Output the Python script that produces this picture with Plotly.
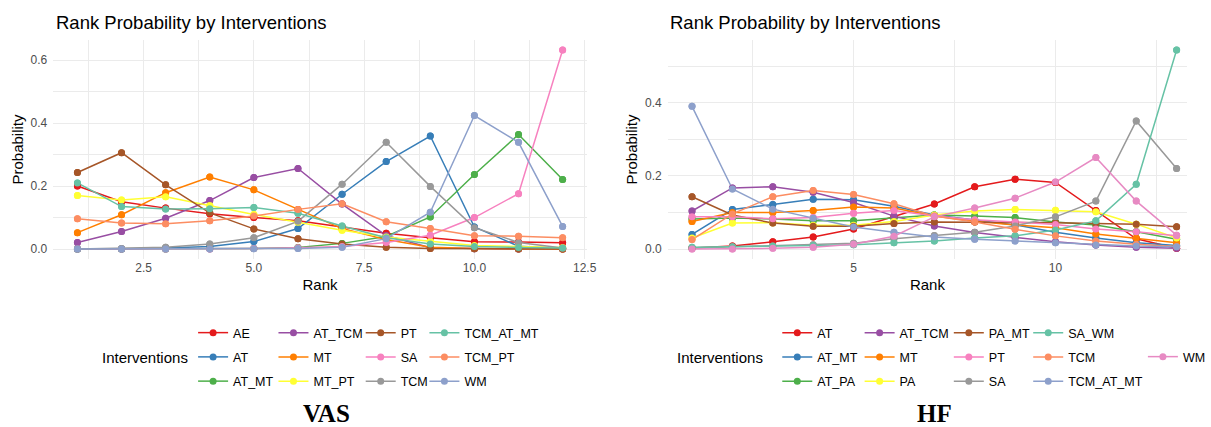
import plotly.graph_objects as go

W, H = 1211, 427

# ---------------- VAS: rank probabilities (ranks 1..12) ----------------
vas_ranks = list(range(1, 13))
vas_names = ["AE", "AT", "AT_MT", "AT_TCM", "MT", "MT_PT", "PT", "SA", "TCM",
             "TCM_AT_MT", "TCM_PT", "WM"]
vas_AE = [0.200, 0.150, 0.130, 0.112, 0.100, 0.090, 0.070, 0.050, 0.036, 0.023, 0.022, 0.020]
vas_AT = [0.000, 0.000, 0.003, 0.008, 0.024, 0.065, 0.174, 0.278, 0.359, 0.070, 0.009, 0.002]
vas_AT_MT = [0.000, 0.000, 0.000, 0.001, 0.002, 0.005, 0.018, 0.040, 0.102, 0.237, 0.364, 0.221]
vas_AT_TCM = [0.021, 0.056, 0.098, 0.154, 0.227, 0.256, 0.143, 0.043, 0.004, 0.001, 0.000, 0.000]
vas_MT = [0.052, 0.109, 0.179, 0.229, 0.188, 0.126, 0.065, 0.030, 0.006, 0.002, 0.001, 0.000]
vas_MT_PT = [0.170, 0.156, 0.166, 0.138, 0.110, 0.085, 0.060, 0.038, 0.025, 0.011, 0.008, 0.005]
vas_PT = [0.243, 0.306, 0.204, 0.115, 0.064, 0.033, 0.016, 0.006, 0.002, 0.001, 0.000, 0.000]
vas_SA = [0.000, 0.000, 0.000, 0.000, 0.002, 0.004, 0.008, 0.021, 0.044, 0.100, 0.176, 0.632]
vas_TCM = [0.000, 0.002, 0.006, 0.016, 0.036, 0.088, 0.206, 0.339, 0.199, 0.068, 0.021, 0.003]
vas_TCM_AT_MT = [0.210, 0.135, 0.127, 0.128, 0.132, 0.114, 0.073, 0.036, 0.016, 0.008, 0.005, 0.003]
vas_TCM_PT = [0.096, 0.083, 0.080, 0.090, 0.105, 0.126, 0.144, 0.087, 0.065, 0.042, 0.041, 0.036]
vas_WM = [0.000, 0.000, 0.000, 0.000, 0.001, 0.002, 0.006, 0.033, 0.117, 0.424, 0.339, 0.072]
vas_values = [vas_AE, vas_AT, vas_AT_MT, vas_AT_TCM, vas_MT, vas_MT_PT, vas_PT, vas_SA,
              vas_TCM, vas_TCM_AT_MT, vas_TCM_PT, vas_WM]
vas_colors = ["#E41A1C", "#377EB8", "#4DAF4A", "#984EA3", "#FF7F00", "#FFFF33", "#A65628",
              "#F781BF", "#999999", "#66C2A5", "#FC8D62", "#8DA0CB"]

# ---------------- HF: rank probabilities (ranks 1..13) ----------------
hf_ranks = list(range(1, 14))
hf_names = ["AT", "AT_MT", "AT_PA", "AT_TCM", "MT", "PA", "PA_MT", "PT", "SA", "SA_WM",
            "TCM", "TCM_AT_MT", "WM"]
hf_AT = [0.003, 0.008, 0.020, 0.033, 0.055, 0.088, 0.123, 0.170, 0.191, 0.182, 0.105, 0.028, 0.002]
hf_AT_MT = [0.040, 0.108, 0.122, 0.136, 0.135, 0.117, 0.093, 0.080, 0.066, 0.046, 0.030, 0.017, 0.010]
hf_AT_PA = [0.082, 0.085, 0.082, 0.077, 0.077, 0.084, 0.093, 0.090, 0.086, 0.074, 0.066, 0.047, 0.027]
hf_AT_TCM = [0.104, 0.167, 0.170, 0.155, 0.127, 0.090, 0.063, 0.045, 0.032, 0.020, 0.011, 0.005, 0.002]
hf_MT = [0.075, 0.100, 0.100, 0.105, 0.115, 0.112, 0.090, 0.076, 0.066, 0.058, 0.041, 0.030, 0.017]
hf_PA = [0.030, 0.071, 0.072, 0.065, 0.065, 0.075, 0.093, 0.104, 0.108, 0.106, 0.102, 0.068, 0.030]
hf_PA_MT = [0.143, 0.093, 0.071, 0.062, 0.062, 0.070, 0.074, 0.074, 0.072, 0.072, 0.070, 0.068, 0.061]
hf_PT = [0.088, 0.088, 0.083, 0.086, 0.098, 0.105, 0.090, 0.080, 0.074, 0.067, 0.055, 0.047, 0.036]
hf_SA = [0.003, 0.006, 0.008, 0.012, 0.016, 0.028, 0.037, 0.046, 0.063, 0.088, 0.131, 0.350, 0.220]
hf_SA_WM = [0.005, 0.006, 0.008, 0.010, 0.012, 0.017, 0.022, 0.030, 0.036, 0.052, 0.077, 0.177, 0.544]
hf_TCM = [0.026, 0.096, 0.143, 0.160, 0.149, 0.124, 0.090, 0.074, 0.054, 0.036, 0.022, 0.013, 0.007]
hf_TCM_AT_MT = [0.390, 0.164, 0.109, 0.084, 0.060, 0.046, 0.033, 0.027, 0.022, 0.017, 0.011, 0.008, 0.006]
hf_WM = [0.000, 0.000, 0.002, 0.005, 0.013, 0.035, 0.088, 0.112, 0.139, 0.183, 0.250, 0.131, 0.038]
hf_values = [hf_AT, hf_AT_MT, hf_AT_PA, hf_AT_TCM, hf_MT, hf_PA, hf_PA_MT, hf_PT, hf_SA,
             hf_SA_WM, hf_TCM, hf_TCM_AT_MT, hf_WM]
hf_colors = ["#E41A1C", "#377EB8", "#4DAF4A", "#984EA3", "#FF7F00", "#FFFF33", "#A65628",
             "#F781BF", "#999999", "#66C2A5", "#FC8D62", "#8DA0CB", "#E78AC3"]

SANS = "Liberation Sans, Arial, sans-serif"
SERIF = "Liberation Serif, Times New Roman, serif"
GRID = "#EBEBEB"
TICK = "#4D4D4D"
MARKER_SIZE = 7
LINE_WIDTH = 1.5


def px_x(x):
    return x / W


def px_y(y):
    return 1 - y / H


fig = go.Figure()

# legend layout: items fill columns top-to-bottom, 3 per column
ROWS = 3
ROW_MID = 357
vas_legend_left = [197, 279, 368, 433]
hf_legend_left = [793, 877, 968, 1049, 1166]


def add_panel(ranks, names, values, colors, xa, ya, legend_ids):
    # lines (with legend entries) first, then all points on top
    for i, (name, vals, col) in enumerate(zip(names, values, colors)):
        fig.add_trace(go.Scatter(
            x=ranks, y=vals, name=name, mode="lines+markers",
            line=dict(color=col, width=LINE_WIDTH),
            marker=dict(color=col, size=MARKER_SIZE),
            xaxis=xa, yaxis=ya, legend=legend_ids[i // ROWS],
            legendgroup=xa + name, showlegend=True,
        ))
    for i, (name, vals, col) in enumerate(zip(names, values, colors)):
        fig.add_trace(go.Scatter(
            x=ranks, y=vals, name=name, mode="markers",
            marker=dict(color=col, size=MARKER_SIZE),
            xaxis=xa, yaxis=ya, legendgroup=xa + name, showlegend=False,
        ))


vas_ids = ["legend", "legend2", "legend3", "legend4"]
hf_ids = ["legend5", "legend6", "legend7", "legend8", "legend9"]
add_panel(vas_ranks, vas_names, vas_values, vas_colors, "x", "y", vas_ids)
add_panel(hf_ranks, hf_names, hf_values, hf_colors, "x2", "y2", hf_ids)

legends = {}
for lid, left in list(zip(vas_ids, vas_legend_left)) + list(zip(hf_ids, hf_legend_left)):
    legends[lid] = dict(
        x=px_x(left), xanchor="left", y=px_y(ROW_MID), yanchor="middle",
        orientation="v", bgcolor="rgba(0,0,0,0)", borderwidth=0,
        font=dict(family=SANS, size=12.5, color="black"),
        tracegroupgap=5, itemclick=False, itemdoubleclick=False,
    )

plot_top, plot_bottom = 40, 259
ydom = [px_y(plot_bottom), px_y(plot_top)]


def xaxis_style(domain, rng, dtick, minor_dtick, fmt, anchor):
    return dict(
        domain=domain, range=rng, anchor=anchor, dtick=dtick, tick0=0, tickformat=fmt,
        showgrid=True, gridcolor=GRID, gridwidth=1.1, zeroline=False, showline=False,
        ticks="", ticklabelstandoff=0,
        tickfont=dict(family=SANS, size=12, color=TICK),
        minor=dict(dtick=minor_dtick, tick0=0, showgrid=True, gridcolor=GRID, gridwidth=0.55),
        title=dict(text="Rank", font=dict(family=SANS, size=15, color="black"), standoff=5),
    )


def yaxis_style(rng, anchor):
    return dict(
        domain=ydom, range=rng, anchor=anchor, dtick=0.2, tick0=0, tickformat=".1f",
        showgrid=True, gridcolor=GRID, gridwidth=1.1, zeroline=False, showline=False,
        ticks="", ticklabelstandoff=5,
        tickfont=dict(family=SANS, size=12, color=TICK),
        minor=dict(dtick=0.1, tick0=0, showgrid=True, gridcolor=GRID, gridwidth=0.55),
        title=dict(text="Probability", font=dict(family=SANS, size=15, color="black"), standoff=3),
    )


annotations = []
for x0, lab_x, cap, cap_x in [(55, 194, "VAS", 333), (682, 780, "HF", 953)]:
    annotations.append(dict(
        text="Rank Probability by Interventions", x=px_x(x0), y=px_y(23),
        xref="paper", yref="paper", xanchor="left", yanchor="middle", showarrow=False,
        font=dict(family=SANS, size=18.5, color="black")))
    annotations.append(dict(
        text="Interventions", x=px_x(lab_x), y=px_y(ROW_MID),
        xref="paper", yref="paper", xanchor="right", yanchor="middle", showarrow=False,
        font=dict(family=SANS, size=15, color="black")))
    annotations.append(dict(
        text="<b>%s</b>" % cap, x=px_x(cap_x), y=px_y(413),
        xref="paper", yref="paper", xanchor="center", yanchor="middle", showarrow=False,
        font=dict(family=SERIF, size=25, color="black")))

fig.update_layout(
    width=W, height=H,
    margin=dict(l=0, r=0, t=0, b=0),
    paper_bgcolor="white", plot_bgcolor="white",
    font=dict(family=SANS),
    xaxis=xaxis_style([px_x(54.25), px_x(598.75)], [0.45, 12.55], 2.5, 1.25, ".1f", "y"),
    yaxis=yaxis_style([-0.0316, 0.664], "x"),
    xaxis2=xaxis_style([px_x(681.3), 1.0], [0.4, 13.257], 5, 2.5, "d", "y2"),
    yaxis2=yaxis_style([-0.0272, 0.5712], "x2"),
    annotations=annotations,
    **legends,
)

fig.write_html("out.html")
